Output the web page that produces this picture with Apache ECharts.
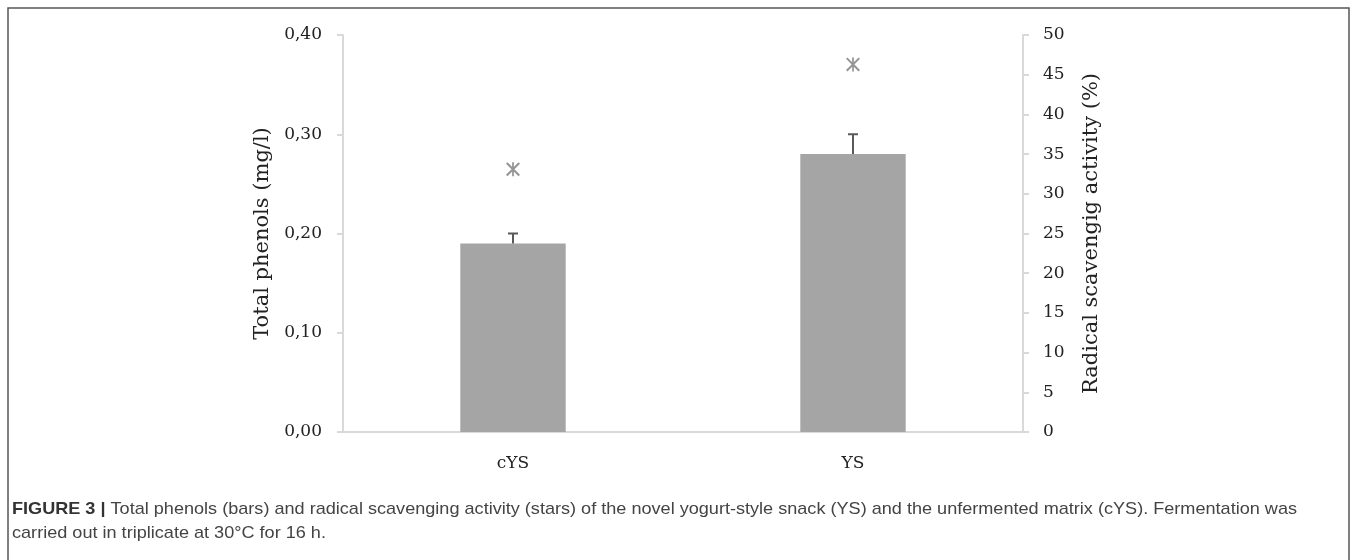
<!DOCTYPE html>
<html>
<head>
<meta charset="utf-8">
<script src="https://cdn.jsdelivr.net/npm/echarts@6/dist/echarts.min.js"></script>
<style>
  html, body { margin: 0; padding: 0; background: #fff; }
  #chart { width: 1357px; height: 560px; }
</style>
</head>
<body>
<div id="chart"></div>
<script>
// data
const categories = ['cYS', 'YS'];
const phenols = [0.19, 0.28];          // bars, left axis (mg/l)
const phenolsErr = [0.01, 0.02];       // upper error only
const scavenging = [33.1, 46.3];       // stars, right axis (%)

const serif = '"DejaVu Serif", "Liberation Serif", serif';
const captionBold = 'FIGURE 3 | ';
const captionLine1 = 'Total phenols (bars) and radical scavenging activity (stars) of the novel yogurt-style snack (YS) and the unfermented matrix (cYS). Fermentation was';
const captionLine2 = 'carried out in triplicate at 30°C for 16 h.';

// condensed caption font: measure and squeeze to the original width
const ctx = document.createElement('canvas').getContext('2d');
ctx.font = 'bold 17px "Liberation Sans"';
let w = ctx.measureText(captionBold).width;
ctx.font = '17px "Liberation Sans"';
w += ctx.measureText(captionLine1).width;
const squeeze = 1285 / w;

// star made of three thin bars (X + vertical)
const starPath = 'path://M10.5 0L13.5 0L13.5 24L10.5 24Z M0 2.5L2.5 0L24 21.5L21.5 24Z M21.5 0L24 2.5L2.5 24L0 21.5Z';

const chart = echarts.init(document.getElementById('chart'));

const option = {
  animation: false,
  grid: { left: 343, right: 334, top: 35, bottom: 128 },
  xAxis: {
    type: 'category',
    data: categories,
    axisLine: { lineStyle: { color: '#d9d9d9', width: 2 } },
    axisTick: { show: false },
    axisLabel: { fontFamily: serif, fontSize: 17, color: '#222', margin: 23 }
  },
  yAxis: [
    {
      type: 'value',
      min: 0, max: 0.4, interval: 0.1,
      name: 'Total phenols (mg/l)',
      nameLocation: 'middle',
      nameGap: 66,
      nameTextStyle: { fontFamily: serif, fontSize: 21, color: '#222' },
      axisLine: { show: true, lineStyle: { color: '#d9d9d9', width: 2 } },
      axisTick: { show: true, length: 6, lineStyle: { color: '#d9d9d9', width: 2 } },
      splitLine: { show: false },
      axisLabel: {
        fontFamily: serif, fontSize: 17, color: '#222', margin: 21,
        formatter: v => v.toFixed(2).replace('.', ',')
      }
    },
    {
      type: 'value',
      position: 'right',
      min: 0, max: 50, interval: 5,
      name: 'Radical scavengig activity (%)',
      nameLocation: 'middle',
      nameGap: 58,
      nameTextStyle: { fontFamily: serif, fontSize: 21, color: '#222' },
      axisLine: { show: true, lineStyle: { color: '#d9d9d9', width: 2 } },
      axisTick: { show: true, length: 6, lineStyle: { color: '#d9d9d9', width: 2 } },
      splitLine: { show: false },
      axisLabel: { fontFamily: serif, fontSize: 17, color: '#222', margin: 20 }
    }
  ],
  series: [
    {
      type: 'bar',
      data: phenols,
      barWidth: '31%',
      itemStyle: { color: '#a5a5a5' }
    },
    {
      type: 'custom',
      data: phenols.map((v, i) => [i, v, v + phenolsErr[i]]),
      renderItem: (params, api) => {
        const base = api.coord([api.value(0), api.value(1)]);
        const top = api.coord([api.value(0), api.value(2)]);
        const style = { stroke: '#595959', lineWidth: 2 };
        return {
          type: 'group',
          children: [
            { type: 'line', shape: { x1: base[0], y1: base[1], x2: top[0], y2: top[1] }, style },
            { type: 'line', shape: { x1: top[0] - 5, y1: top[1], x2: top[0] + 5, y2: top[1] }, style }
          ]
        };
      },
      z: 3
    },
    {
      type: 'scatter',
      yAxisIndex: 1,
      data: scavenging,
      symbol: starPath,
      symbolSize: 14,
      itemStyle: { color: '#7a7a7a' }
    }
  ],
  graphic: [
    {
      type: 'rect',
      shape: { x: 8, y: 8, width: 1341, height: 600 },
      style: { fill: 'none', stroke: '#555', lineWidth: 1.5 },
      silent: true
    },
    {
      type: 'text',
      x: 12, y: 497,
      scaleX: squeeze,
      originX: 0,
      style: {
        text: '{b|' + captionBold + '}{r|' + captionLine1 + '}\n{r|' + captionLine2 + '}',
        lineHeight: 24,
        rich: {
          b: { fontFamily: '"Liberation Sans"', fontSize: 17, fontWeight: 'bold', fill: '#333', lineHeight: 24 },
          r: { fontFamily: '"Liberation Sans"', fontSize: 17, fill: '#444', lineHeight: 24 }
        }
      }
    }
  ]
};

chart.setOption(option);
</script>
</body>
</html>
